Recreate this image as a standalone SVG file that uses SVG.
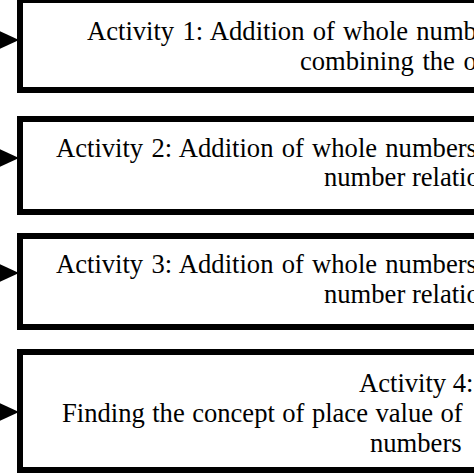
<svg xmlns="http://www.w3.org/2000/svg" width="474" height="474" viewBox="0 0 474 474">
  <style>
    .box { fill: #ffffff; stroke: #000000; stroke-width: 6; }
    .lbl { font-family: "Liberation Serif", "Times New Roman", serif; font-size: 26.6px; fill: #000000; }
    .ws { word-spacing: 1.6px; }
    .arrow { fill: #000000; stroke: none; }
  </style>
  <rect x="0" y="0" width="474" height="474" fill="#ffffff"/>
  <g id="connectors">
    <polygon class="arrow" points="-5,29 19,40 -5,51"/>
    <polygon class="arrow" points="-5,147 19,158 -5,169"/>
    <polygon class="arrow" points="-5,262 19,273 -5,284"/>
    <polygon class="arrow" points="-5,401 19,412 -5,423"/>
  </g>
  <g id="activity1">
    <rect class="box" x="20" y="0" width="500" height="90"/>
    <text class="lbl ws" x="87" y="40">Activity 1: Addition of whole numb</text>
    <text class="lbl" x="300" y="70" style="word-spacing:2px">combining the o</text>
  </g>
  <g id="activity2">
    <rect class="box" x="20" y="119" width="500" height="93"/>
    <text class="lbl ws" x="56" y="157">Activity 2: Addition of whole numbers</text>
    <text class="lbl" x="324" y="186">number relatio</text>
  </g>
  <g id="activity3">
    <rect class="box" x="20" y="236" width="500" height="91"/>
    <text class="lbl ws" x="56" y="273">Activity 3: Addition of whole numbers</text>
    <text class="lbl" x="324" y="303">number relatio</text>
  </g>
  <g id="activity4">
    <rect class="box" x="20" y="352" width="500" height="118"/>
    <text class="lbl" x="359" y="392">Activity 4:</text>
    <text class="lbl" x="62" y="422" style="word-spacing:0.8px">Finding the concept of place value of</text>
    <text class="lbl" x="370" y="452">numbers</text>
  </g>
</svg>
